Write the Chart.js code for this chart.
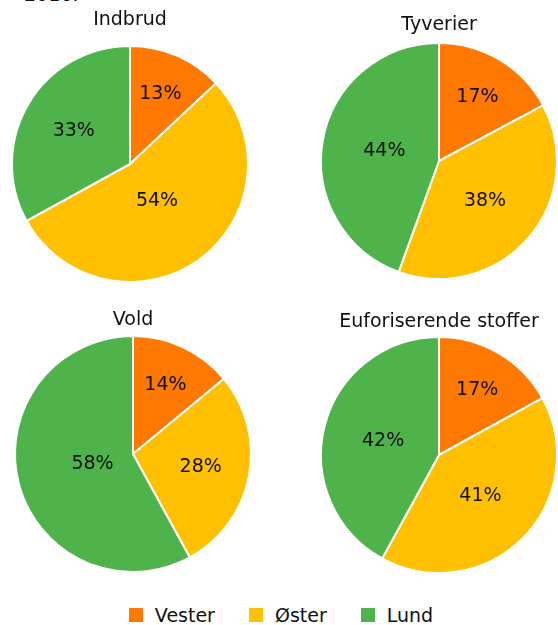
<!DOCTYPE html>
<html>
<head>
<meta charset="utf-8">
<script src="https://cdn.jsdelivr.net/npm/chart.js@4"></script>
<style>
  body { margin: 0; width: 558px; height: 625px; overflow: hidden; background: #fff; position: relative;
         font-family: "DejaVu Sans", sans-serif; color: #111; }
  canvas { position: absolute; }
  #cut { position: absolute; left: 24px; top: -15px; font-size: 19px; line-height: 19px; }
  #legend { position: absolute; left: 0; width: 558px; top: 604px; display: flex; justify-content: center;
            gap: 34px; font-size: 19px; padding-left: 4px; box-sizing: border-box; }
  #legend span.item { display: flex; align-items: center; }
  #legend i { display: inline-block; width: 14px; height: 14px; margin-right: 12px; }
</style>
</head>
<body>
<div id="cut">2016:</div>
<canvas id="c0"></canvas>
<canvas id="c1"></canvas>
<canvas id="c2"></canvas>
<canvas id="c3"></canvas>
<div id="legend"></div>
<script>
const areas = ['Vester', 'Øster', 'Lund'];
const colors = ['#FF7800', '#FFC000', '#4EB34A'];

const titles = ['Indbrud', 'Tyverier', 'Vold', 'Euforiserende stoffer'];
const indbrud = [13, 54, 33];
const tyverier = [17, 38, 44];
const vold = [14, 28, 58];
const euforiserende = [17, 41, 42];
const series = [indbrud, tyverier, vold, euforiserende];

// where each pie sits on the page
const layout = [
  { cx: 130, cy: 164, titleY: 20 },
  { cx: 439, cy: 161, titleY: 25 },
  { cx: 133, cy: 454, titleY: 320 },
  { cx: 439, cy: 455, titleY: 322 }
];
const R = 119;

// percent labels at the centroid of each slice
const centroidLabels = {
  id: 'centroidLabels',
  afterDatasetsDraw(chart) {
    const ctx = chart.ctx;
    const meta = chart.getDatasetMeta(0);
    const vals = chart.data.datasets[0].data;
    ctx.save();
    ctx.font = '19px "DejaVu Sans", sans-serif';
    ctx.fillStyle = '#111';
    ctx.textAlign = 'center';
    ctx.textBaseline = 'middle';
    meta.data.forEach((arc, i) => {
      const p = arc.getProps(['x', 'y', 'startAngle', 'endAngle', 'outerRadius'], true);
      const half = (p.endAngle - p.startAngle) / 2;
      const mid = p.startAngle + half;
      const d = half > 0.001 ? 2 * p.outerRadius * Math.sin(half) / (3 * half) : p.outerRadius * 0.66;
      ctx.fillText(vals[i] + '%', p.x + Math.cos(mid) * d, p.y + Math.sin(mid) * d);
    });
    ctx.restore();
  }
};

series.forEach((vals, k) => {
  const L = layout[k];
  const cv = document.getElementById('c' + k);
  const top = L.titleY - 20;
  const W = 2 * R + 30, H = L.cy + R + 4 - top;
  cv.width = W; cv.height = H;
  cv.style.left = (L.cx - W / 2) + 'px';
  cv.style.top = top + 'px';
  const titleBottom = (L.cy - R) - top - 30;
  new Chart(cv, {
    type: 'pie',
    data: {
      labels: areas,
      datasets: [{
        data: vals,
        backgroundColor: colors,
        borderColor: '#fff',
        borderWidth: 2
      }]
    },
    options: {
      responsive: false,
      animation: false,
      devicePixelRatio: 1,
      layout: { padding: { left: 14, right: 14, top: 0, bottom: 4 } },
      plugins: {
        legend: { display: false },
        tooltip: { enabled: false },
        title: {
          display: true,
          text: titles[k],
          color: '#111',
          font: { family: '"DejaVu Sans", sans-serif', size: 19, weight: 'normal', lineHeight: 1 },
          padding: { top: 11, bottom: titleBottom }
        }
      }
    },
    plugins: [centroidLabels]
  });
});

const legend = document.getElementById('legend');
areas.forEach((a, i) => {
  const s = document.createElement('span');
  s.className = 'item';
  s.innerHTML = '<i style="background:' + colors[i] + '"></i>' + a;
  legend.appendChild(s);
});
</script>
</body>
</html>
